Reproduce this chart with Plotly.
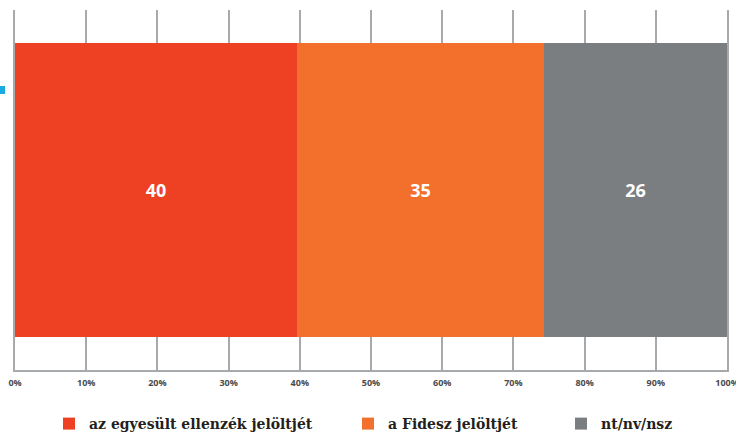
import plotly.graph_objects as go

categories = [""]
series_names = ["az egyesült ellenzék jelöltjét", "a Fidesz jelöltjét", "nt/nv/nsz"]
series_values = [40, 35, 26]
series_colors = ["#EE4124", "#F2702B", "#7B7E81"]
tick_values = [0, 10, 20, 30, 40, 50, 60, 70, 80, 90, 100]
tick_labels = ["0%", "10%", "20%", "30%", "40%", "50%", "60%", "70%", "80%", "90%", "100%"]

total = sum(series_values)
shares = [v / total * 100 for v in series_values]

W, H = 736, 433
ml, mr, mt, mb = 15, 9, 10, 63
pw = W - ml - mr
ph = H - mt - mb

def px_to_x(px):
    return (px - ml) / pw

def py_to_y(py):
    return (H - mb - py) / ph

legend_px = [49, 348, 561]
legend_keys = ["legend", "legend2", "legend3"]

fig = go.Figure()
for name, val, share, col, lk in zip(series_names, series_values, shares, series_colors, legend_keys):
    fig.add_trace(go.Bar(
        y=categories, x=[share], name=name, orientation="h",
        marker=dict(color=col, line=dict(width=0)),
        text=[str(val)], textposition="inside", insidetextanchor="middle",
        textfont=dict(family="Open Sans", size=18, color="white", weight="bold"),
        width=0.814, legend=lk, hoverinfo="name+text",
    ))

legend_common = dict(
    orientation="h", yanchor="middle", xanchor="left",
    font=dict(family="DejaVu Serif", size=14, color="#231F20", weight="bold"),
    bgcolor="rgba(0,0,0,0)", itemwidth=30,
)
layout_legends = {}
for lk, lpx in zip(legend_keys, legend_px):
    layout_legends[lk] = dict(legend_common, x=px_to_x(lpx), y=py_to_y(424))

fig.update_layout(
    width=W, height=H,
    margin=dict(l=ml, r=mr, t=mt, b=mb, autoexpand=False),
    paper_bgcolor="white", plot_bgcolor="white",
    barmode="stack", bargap=0,
    showlegend=True,
    xaxis=dict(
        range=[0, 100], tickvals=tick_values, ticktext=tick_labels,
        showgrid=True, gridcolor="#A6AAAD", gridwidth=1.5,
        showline=True, linecolor="#A6AAAD", linewidth=1.5,
        zeroline=False, ticks="", ticklabelstandoff=3,
        ticklabeloverflow="allow",
        tickfont=dict(family="Open Sans", size=9, color="#4A4A4A", weight="bold"),
        fixedrange=True, automargin=False,
    ),
    yaxis=dict(
        range=[-0.5, 0.5], showticklabels=False, showgrid=False, zeroline=False,
        showline=True, mirror=True, linecolor="#A6AAAD", linewidth=1.5,
        fixedrange=True, automargin=False,
    ),
    shapes=[dict(type="rect", xref="paper", yref="paper",
                 x0=px_to_x(0), x1=px_to_x(5), y0=py_to_y(94), y1=py_to_y(86),
                 fillcolor="#1BA9E1", line=dict(width=0), layer="above")],
    **layout_legends,
)

fig.write_html(
    "out.html",
    config={"displayModeBar": False},
    post_script="document.body.style.margin='0';document.body.style.overflow='hidden';",
)
